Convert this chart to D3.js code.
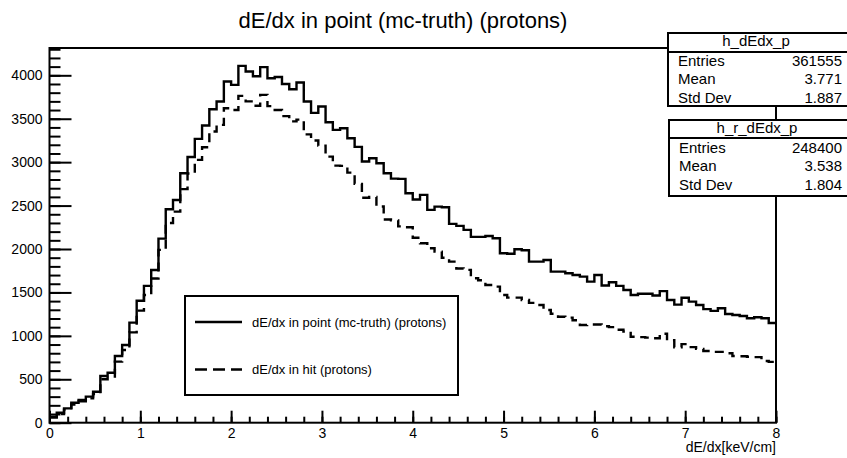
<!DOCTYPE html>
<html>
<head>
<meta charset="utf-8">
<script src="https://cdn.jsdelivr.net/npm/d3@7/dist/d3.min.js"></script>
<style>
  body { margin: 0; background: #fff; }
  svg { display: block; font-family: "Liberation Sans", Arial, Helvetica, sans-serif; }
</style>
</head>
<body>
<div id="chart"></div>
<script>
const binWidth = 0.08

// counts per bin, 100 bins from 0 to 8 keV/cm
const pointCounts = [
  70, 115, 165, 230, 261, 300, 357, 538, 576, 768,
  895, 1152, 1405, 1575, 1759, 2120, 2458, 2565, 2872, 3060,
  3268, 3422, 3610, 3698, 3929, 3890, 4109, 4044, 3990, 4094,
  3967, 3980, 3900, 3840, 3917, 3698, 3568, 3641, 3460, 3372,
  3391, 3276, 3176, 3007, 3045, 2988, 2872, 2810, 2807, 2642,
  2570, 2623, 2450, 2488, 2480, 2289, 2266, 2220, 2140, 2140,
  2150, 2124, 1951, 1945, 1997, 1985, 1855, 1855, 1874, 1740,
  1740, 1720, 1701, 1682, 1624, 1700, 1580, 1618, 1575, 1528,
  1471, 1485, 1485, 1465, 1515, 1413, 1360, 1438, 1394, 1356,
  1308, 1288, 1317, 1252, 1240, 1229, 1202, 1214, 1202, 1148
]
const hitCounts = [
  60, 100, 150, 210, 245, 280, 330, 500, 530, 703,
  837, 1040, 1290, 1470, 1660, 1990, 2300, 2430, 2690, 2870,
  3026, 3172, 3353, 3429, 3621, 3600, 3763, 3700, 3650, 3775,
  3645, 3600, 3530, 3470, 3490, 3320, 3250, 3190, 3064, 2960,
  2957, 2880, 2750, 2590, 2600, 2490, 2340, 2330, 2260, 2250,
  2130, 2066, 2008, 1970, 1900, 1855, 1775, 1760, 1663, 1640,
  1586, 1567, 1470, 1440, 1440, 1413, 1380, 1356, 1298, 1255,
  1220, 1210, 1180, 1125, 1130, 1130, 1110, 1100, 1070, 1050,
  990, 985, 980, 972, 1025, 950, 868, 905, 870, 850,
  825, 815, 815, 800, 768, 765, 760, 755, 710, 700
]

const xTicks = [0, 1, 2, 3, 4, 5, 6, 7, 8]
const yTicks = [0, 500, 1000, 1500, 2000, 2500, 3000, 3500, 4000]

const chartTitle = "dE/dx in point (mc-truth) (protons)"
const xTitle = "dE/dx[keV/cm]"
const seriesNames = ["dE/dx in point (mc-truth) (protons)", "dE/dx in hit (protons)"]
const histNames = ["h_dEdx_p", "h_r_dEdx_p"]
const statRows = ["Entries", "Mean", "Std Dev"]
const pointStats = ["361555", "3.771", "1.887"]
const hitStats = ["248400", "3.538", "1.804"]

class HistChart {
  constructor(elem) {
    this.$el = elem
    this.width = 847
    this.height = 458
    this.frame = {left: 49.5, right: 776, top: 48, bottom: 422.7}
    this.#render()
  }

  #render() {
    const svg = d3.select(this.$el).append("svg")
      .attr("width", this.width)
      .attr("height", this.height)
    this.svg = svg

    const f = this.frame
    const yMax = d3.max(pointCounts) * 1.05
    this.x = d3.scaleLinear().domain([0, 8]).range([f.left, f.right])
    this.y = d3.scaleLinear().domain([0, yMax]).range([f.bottom, f.top])

    svg.append("text")
      .attr("x", 403).attr("y", 28)
      .attr("text-anchor", "middle")
      .style("font-size", "22px")
      .text(chartTitle)

    this.#drawHist(pointCounts, null)
    this.#drawHist(hitCounts, "9,6")
    this.#drawAxes(yMax)

    svg.append("rect")
      .attr("x", f.left).attr("y", f.top)
      .attr("width", f.right - f.left).attr("height", f.bottom - f.top)
      .attr("fill", "none").attr("stroke", "#000").attr("stroke-width", 2)

    this.#drawLegend()
    this.#drawStats({x: 668, y: 33, h: 73, head: 19}, histNames[0], pointStats)
    this.#drawStats({x: 669, y: 120, h: 76, head: 18}, histNames[1], hitStats)
  }

  #drawHist(counts, dash) {
    const pts = counts.map((c, i) => [i * binWidth, c])
    pts.push([counts.length * binWidth, counts[counts.length - 1]])

    const line = d3.line()
      .x(d => this.x(d[0]))
      .y(d => this.y(d[1]))
      .curve(d3.curveStepAfter)

    this.svg.append("path")
      .datum(pts)
      .attr("d", line)
      .attr("fill", "none")
      .attr("stroke", "#000")
      .attr("stroke-width", 2.4)
      .attr("stroke-dasharray", dash)
  }

  #drawAxes(yMax) {
    const f = this.frame
    const svg = this.svg

    // y axis: major + minor ticks drawn inwards
    const yMinor = d3.range(0, yMax, 100)
    svg.append("g")
      .attr("transform", `translate(${f.left},0)`)
      .call(d3.axisLeft(this.y).tickValues(yMinor).tickSize(-11).tickFormat(""))
      .call(g => g.select(".domain").remove())
    const yAxis = svg.append("g")
      .attr("transform", `translate(${f.left},0)`)
      .call(d3.axisLeft(this.y).tickValues(yTicks).tickSize(-22).tickPadding(7).tickFormat(d3.format("d")))
    yAxis.select(".domain").remove()
    yAxis.selectAll("text").style("font-size", "14px").attr("fill", "#000")

    const xMinor = d3.range(0, 8.001, 0.2)
    svg.append("g")
      .attr("transform", `translate(0,${f.bottom})`)
      .call(d3.axisBottom(this.x).tickValues(xMinor).tickSize(-6).tickFormat(""))
      .call(g => g.select(".domain").remove())
    const xAxis = svg.append("g")
      .attr("transform", `translate(0,${f.bottom})`)
      .call(d3.axisBottom(this.x).tickValues(xTicks).tickSize(-12).tickPadding(5).tickFormat(d3.format("d")))
    xAxis.select(".domain").remove()
    xAxis.selectAll("text").style("font-size", "14px").attr("fill", "#000")

    svg.selectAll(".tick line").attr("stroke", "#000").attr("stroke-width", 2)

    svg.append("text")
      .attr("x", f.right).attr("y", 452)
      .attr("text-anchor", "end")
      .style("font-size", "14px")
      .text(xTitle)
  }

  #drawLegend() {
    const g = this.svg.append("g").attr("transform", "translate(185,296)")
    g.append("rect")
      .attr("width", 273).attr("height", 99)
      .attr("fill", "#fff").attr("stroke", "#000").attr("stroke-width", 2)

    const rows = [{y: 26, dash: null}, {y: 73.5, dash: "12,6"}]
    rows.forEach((r, i) => {
      g.append("line")
        .attr("x1", 10).attr("x2", 57).attr("y1", r.y).attr("y2", r.y)
        .attr("stroke", "#000").attr("stroke-width", 2.4)
        .attr("stroke-dasharray", r.dash)
      g.append("text")
        .attr("x", 67).attr("y", r.y + 4.5)
        .style("font-size", "13px")
        .text(seriesNames[i])
    })
  }

  #drawStats(box, name, values) {
    const g = this.svg.append("g").attr("transform", `translate(${box.x},${box.y})`)
    const w = 847 - box.x + 4
    g.append("rect")
      .attr("width", w).attr("height", box.h)
      .attr("fill", "#fff").attr("stroke", "#000").attr("stroke-width", 2)
    g.append("line")
      .attr("x1", 0).attr("x2", w).attr("y1", box.head).attr("y2", box.head)
      .attr("stroke", "#000").attr("stroke-width", 2)
    g.append("text")
      .attr("x", 88).attr("y", 13)
      .attr("text-anchor", "middle")
      .style("font-size", "15px")
      .text(name)

    const rowY = [33, 51, 70]
    statRows.forEach((label, i) => {
      g.append("text")
        .attr("x", 10).attr("y", rowY[i])
        .style("font-size", "15px")
        .text(label)
      g.append("text")
        .attr("x", 174 - (box.x - 668)).attr("y", rowY[i])
        .attr("text-anchor", "end")
        .style("font-size", "15px")
        .text(values[i])
    })
  }
}

new HistChart(document.querySelector("#chart"))
</script>
</body>
</html>
